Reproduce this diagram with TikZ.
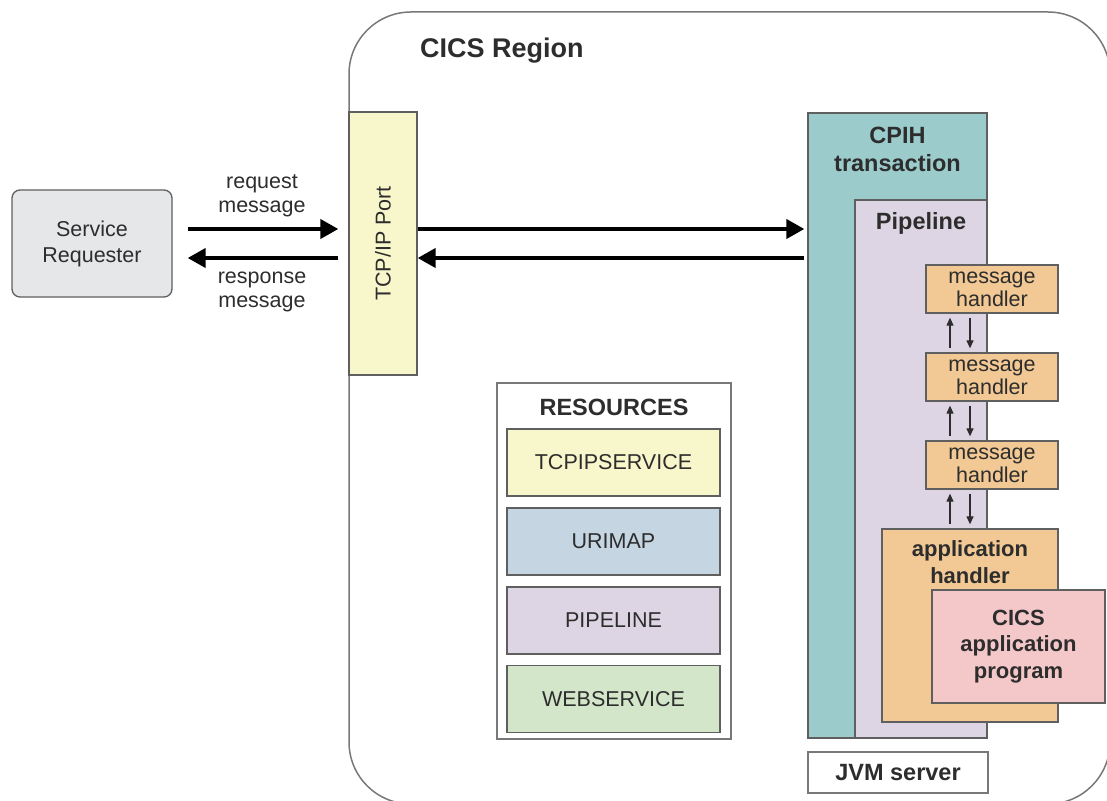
\documentclass[tikz,border=0pt]{standalone}
\usepackage{fontspec}
\setmainfont{Liberation Sans}
\usepackage{tikz}
\usetikzlibrary{arrows.meta}
\definecolor{edge}{RGB}{95, 95, 95}
\definecolor{rim}{RGB}{120, 120, 120}
\definecolor{ink}{RGB}{45, 45, 45}
\definecolor{reqgray}{RGB}{230, 231, 233}
\definecolor{portyellow}{RGB}{248, 246, 203}
\definecolor{cpihteal}{RGB}{156, 203, 204}
\definecolor{pipelilac}{RGB}{221, 213, 228}
\definecolor{handlerorange}{RGB}{242, 201, 148}
\definecolor{progpink}{RGB}{244, 199, 201}
\definecolor{uriblue}{RGB}{197, 213, 226}
\definecolor{webgreen}{RGB}{211, 230, 201}

\begin{document}
\begin{tikzpicture}[x=1pt, y=-1pt,
  box/.style={draw=edge, line width=1.3pt, inner sep=0pt, align=center, text=ink,
    font=\fontsize{21.5}{23}\selectfont},
  lbl/.style={align=center, inner sep=0pt, text=ink, font=\fontsize{21.5}{24.5}\selectfont},
  heading/.style={align=center, inner sep=0pt, text=ink, font=\bfseries\fontsize{23.5}{28}\selectfont},
  handler/.style={box, fill=handlerorange, minimum width=132, minimum height=48},
  resbox/.style={box, minimum width=213, minimum height=67},
  bigarrow/.style={line width=4pt, -{Triangle[length=18pt, width=19pt]}},
  smallarrow/.style={line width=1.2pt, draw=ink, -{Triangle[length=8pt, width=7pt]}}]

  \clip (0, 0) rectangle (1107, 800);

  \node[draw=rim, line width=1.5pt, rounded corners=62pt, minimum width=761, minimum height=792] (region) at (729.5, 408) {};
  \node[heading, anchor=base west, font=\bfseries\fontsize{27}{30}\selectfont] (regionlbl) at (420, 57) {CICS Region};

  \node[box, rounded corners=8pt, fill=reqgray, minimum width=160, minimum height=107,
    font=\fontsize{21.5}{26}\selectfont] (req) at (92, 243.5) {Service\\Requester};
  \node[lbl] (reqlbl) at (262, 196) {request\\message};
  \node[lbl] (resplbl) at (262, 292) {response\\message};

  \node[box, fill=portyellow, minimum width=68, minimum height=263] (port) at (383, 243.5) {};
  \node[lbl, rotate=90] (portlbl) at (port.center) {TCP/IP Port};

  \draw[bigarrow] ([xshift=15pt, yshift=14.5pt]req.east) -- ([xshift=-10pt, yshift=14.5pt]port.west);
  \draw[bigarrow] ([xshift=-10pt, yshift=-14.5pt]port.west) -- ([xshift=15pt, yshift=-14.5pt]req.east);

  % transaction side
  \node[box, fill=cpihteal, minimum width=179, minimum height=625] (cpih) at (897.5, 425.5) {};
  \node[heading] (cpihlbl) at (897.5, 149) {CPIH\\transaction};
  \node[box, fill=pipelilac, minimum width=132, minimum height=538] (pipe) at (921, 469) {};
  \node[heading] (pipelbl) at (921, 223) {Pipeline};

  \draw[bigarrow] ([yshift=14.5pt]port.east) -- ([xshift=-3pt, yshift=196.5pt]cpih.west);
  \draw[bigarrow] ([xshift=-3pt, yshift=167.5pt]cpih.west) -- ([yshift=-14.5pt]port.east);

  \node[handler] (mh1) at (992, 289) {message\\handler};
  \node[handler] (mh2) at (992, 377) {message\\handler};
  \node[handler] (mh3) at (992, 465) {message\\handler};
  \node[box, fill=handlerorange, minimum width=176, minimum height=193] (apph) at (970, 625.5) {};
  \node[heading, font=\bfseries\fontsize{22}{27}\selectfont] (apphlbl) at (970, 562) {application\\handler};
  \node[box, fill=progpink, minimum width=173, minimum height=113,
    font=\bfseries\fontsize{22}{26.5}\selectfont] (prog) at (1018.5, 646.5) {CICS\\application\\program};

  \draw[smallarrow] ([xshift=-42pt, yshift=4pt]mh2.north) -- ([xshift=-42pt, yshift=-4pt]mh1.south);
  \draw[smallarrow] ([xshift=-22pt, yshift=-4pt]mh1.south) -- ([xshift=-22pt, yshift=4pt]mh2.north);
  \draw[smallarrow] ([xshift=-42pt, yshift=4pt]mh3.north) -- ([xshift=-42pt, yshift=-4pt]mh2.south);
  \draw[smallarrow] ([xshift=-22pt, yshift=-4pt]mh2.south) -- ([xshift=-22pt, yshift=4pt]mh3.north);
  \draw[smallarrow] ([xshift=-20pt, yshift=4pt]apph.north) -- ([xshift=-42pt, yshift=-4pt]mh3.south);
  \draw[smallarrow] ([xshift=-22pt, yshift=-4pt]mh3.south) -- ([xshift=0pt, yshift=4pt]apph.north);

  \node[box, draw=rim, fill=white, minimum width=180, minimum height=41,
    font=\bfseries\fontsize{23.5}{28}\selectfont] (jvm) at (898, 772.5) {JVM server};

  % resources
  \node[box, draw=rim, fill=white, line width=1.5pt, minimum width=234, minimum height=356] (res) at (614, 561) {};
  \node[heading] (reslbl) at (614, 407) {RESOURCES};
  \node[resbox, fill=portyellow] (tcpip) at (613.5, 462.5) {TCPIPSERVICE};
  \node[resbox, fill=uriblue] (urimap) at (613.5, 541.5) {URIMAP};
  \node[resbox, fill=pipelilac] (pipeline) at (613.5, 620.5) {PIPELINE};
  \node[resbox, fill=webgreen] (websvc) at (613.5, 699) {WEBSERVICE};

\end{tikzpicture}
\end{document}
